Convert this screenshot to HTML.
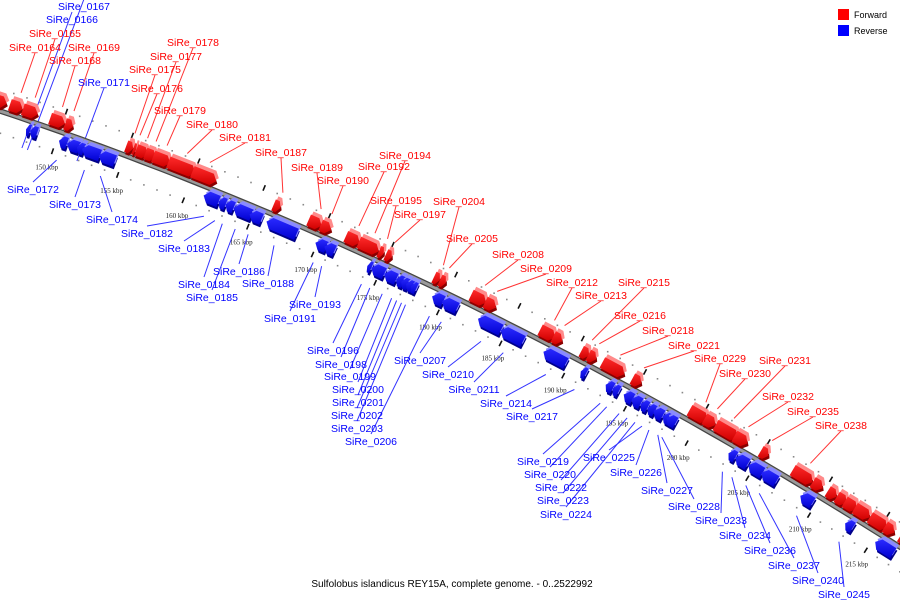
<!DOCTYPE html>
<html><head><meta charset="utf-8"><style>
html,body{margin:0;padding:0;background:#fff;}
svg{display:block;font-family:"Liberation Sans",sans-serif;}
</style></head><body>
<svg id="chart" width="900" height="600" viewBox="0 0 900 600" xmlns="http://www.w3.org/2000/svg">
<defs>
<linearGradient id="gr" x1="0" y1="0" x2="0" y2="1"><stop offset="0" stop-color="#ff2a2a"/><stop offset="1" stop-color="#d00000"/></linearGradient>
<linearGradient id="gb" x1="0" y1="0" x2="0" y2="1"><stop offset="0" stop-color="#2a2aff"/><stop offset="1" stop-color="#0000d0"/></linearGradient>
</defs>
<g id="dots"></g>
<g id="ticks"></g>
<g id="leaders"></g>
<g id="backbone"></g>
<g id="genes"></g>
<g id="labels"></g>
<g>
  <rect x="838" y="9" width="11" height="11" fill="#f00"/>
  <text x="854" y="18" font-size="9">Forward</text>
  <rect x="838" y="25" width="11" height="11" fill="#00f"/>
  <text x="854" y="34" font-size="9">Reverse</text>
</g>
<text x="452" y="587" font-size="10" text-anchor="middle">Sulfolobus islandicus REY15A, complete genome. - 0..2522992</text>
</svg>
<script>
// ---- data (kbp) ----
const tickKbp = [150,155,160,165,170,175,180,185,190,195,200,205,210,215];
const fwdNames = ['','SiRe_0164','SiRe_0165','SiRe_0168','SiRe_0169','SiRe_0175','SiRe_0176','SiRe_0177','SiRe_0178','SiRe_0179','SiRe_0180','SiRe_0181','SiRe_0187','SiRe_0189','SiRe_0190','SiRe_0192','SiRe_0194','SiRe_0195','SiRe_0197','SiRe_0204','SiRe_0205','SiRe_0208','SiRe_0209','SiRe_0212','SiRe_0213','SiRe_0215','SiRe_0216','SiRe_0218','SiRe_0221','SiRe_0229','SiRe_0230','SiRe_0231','SiRe_0232','SiRe_0235','SiRe_0238','','','','','','','',''];
const fwdStart = [144.54,145.99,146.98,149.05,150.19,154.85,155.38,155.61,156.29,156.89,158.03,159.85,166.08,168.77,169.69,171.67,172.70,174.29,174.84,178.65,179.13,181.59,182.70,187.06,188.10,190.32,190.89,192.02,194.44,199.03,200.25,201.15,202.70,204.84,207.42,209.03,210.26,211.05,211.75,212.63,213.95,215.26,216.6];
const fwdEnd   = [145.76,146.98,148.13,150.19,150.80,155.38,155.61,156.52,157.12,158.18,160.08,161.69,166.62,169.77,170.52,172.78,174.29,174.68,175.32,179.13,179.60,182.78,183.57,188.25,188.81,190.97,191.53,193.79,195.16,200.49,201.15,202.95,203.77,205.48,209.03,209.84,211.05,211.93,212.81,213.95,215.44,216.1,217.9];
const revNames = ['SiRe_0166','SiRe_0167','SiRe_0172','','','SiRe_0173','SiRe_0174','SiRe_0182','SiRe_0183','SiRe_0184','SiRe_0185','SiRe_0186','SiRe_0188','SiRe_0191','SiRe_0193','SiRe_0196','SiRe_0198','SiRe_0199','SiRe_0200','SiRe_0201','SiRe_0202','SiRe_0203','SiRe_0206','SiRe_0207','SiRe_0210','SiRe_0211','SiRe_0214','SiRe_0217','SiRe_0219','SiRe_0220','SiRe_0222','SiRe_0223','SiRe_0224','SiRe_0225','SiRe_0226','SiRe_0227','SiRe_0228','SiRe_0233','SiRe_0234','SiRe_0236','SiRe_0237','SiRe_0240','SiRe_0245',''];
const revStart = [147.67,147.98,150.19,150.80,151.56,151.95,153.24,161.23,162.38,162.92,163.54,164.77,166.08,169.85,170.56,173.97,174.29,175.32,176.27,176.67,177.06,177.46,179.13,179.92,182.78,184.60,187.98,190.97,192.98,193.55,194.44,195.08,195.81,196.37,196.85,197.58,197.9,202.95,203.52,204.59,205.65,208.79,212.63,215.26];
const revEnd   = [147.98,148.51,150.80,151.72,152.10,153.32,154.47,162.38,162.92,163.54,164.92,165.69,168.38,170.71,171.35,174.29,175.32,176.27,176.83,177.22,177.62,177.86,180.0,181.11,184.60,186.35,189.76,191.37,193.55,194.03,195.16,195.81,196.37,196.94,197.58,198.3,198.63,203.52,204.51,205.73,206.85,209.76,213.28,216.84];
// label layout (text centres)
const labelPos = {
 'SiRe_0164':[35,47],'SiRe_0165':[55,33],'SiRe_0168':[75,60],'SiRe_0169':[94,47],
 'SiRe_0178':[193,42],'SiRe_0177':[176,56],'SiRe_0175':[155,69],'SiRe_0176':[157,88],
 'SiRe_0179':[180,110],'SiRe_0180':[212,124],'SiRe_0181':[245,137],'SiRe_0187':[281,152],
 'SiRe_0189':[317,167],'SiRe_0190':[343,180],'SiRe_0192':[384,166],'SiRe_0194':[405,155],
 'SiRe_0195':[396,200],'SiRe_0197':[420,214],'SiRe_0204':[459,201],'SiRe_0205':[472,238],
 'SiRe_0208':[518,254],'SiRe_0209':[546,268],'SiRe_0212':[572,282],'SiRe_0213':[601,295],
 'SiRe_0215':[644,282],'SiRe_0216':[640,315],'SiRe_0218':[668,330],'SiRe_0221':[694,345],
 'SiRe_0229':[720,358],'SiRe_0230':[745,373],'SiRe_0231':[785,360],'SiRe_0232':[788,396],
 'SiRe_0235':[813,411],'SiRe_0238':[841,425],
 'SiRe_0167':[84,6],'SiRe_0166':[72,19],'SiRe_0171':[104,82],'SiRe_0172':[33,189],
 'SiRe_0173':[75,204],'SiRe_0174':[112,219],'SiRe_0182':[147,233],'SiRe_0183':[184,248],
 'SiRe_0184':[204,284],'SiRe_0185':[212,297],'SiRe_0186':[239,271],'SiRe_0188':[268,283],
 'SiRe_0193':[315,304],'SiRe_0191':[290,318],'SiRe_0196':[333,350],'SiRe_0198':[341,364],
 'SiRe_0199':[350,376],'SiRe_0200':[358,389],'SiRe_0201':[358,402],'SiRe_0202':[357,415],
 'SiRe_0203':[357,428],'SiRe_0206':[371,441],'SiRe_0207':[420,360],'SiRe_0210':[448,374],
 'SiRe_0211':[474,389],'SiRe_0214':[506,403],'SiRe_0217':[532,416],'SiRe_0219':[543,461],
 'SiRe_0220':[550,474],'SiRe_0222':[561,487],'SiRe_0223':[563,500],'SiRe_0224':[566,514],
 'SiRe_0225':[609,457],'SiRe_0226':[636,472],'SiRe_0227':[667,490],'SiRe_0228':[694,506],
 'SiRe_0233':[721,520],'SiRe_0234':[745,535],'SiRe_0236':[770,550],'SiRe_0237':[794,565],
 'SiRe_0240':[818,580],'SiRe_0245':[844,594]
};
const tickX = [59.5,125,191,256,321,384,447,510,573,635,697,758,820,877];
const NS='http://www.w3.org/2000/svg';
function xOf(k){
  let i=0; while(i<tickKbp.length-2 && k>tickKbp[i+1]) i++;
  return tickX[i]+(k-tickKbp[i])*(tickX[i+1]-tickX[i])/(tickKbp[i+1]-tickKbp[i]);
}
function yOf(x){return 111+0.3333*x+1.679e-4*x*x;}
function frame(x){const m=0.3333+3.358e-4*x;const l=Math.sqrt(1+m*m);return {u:[1/l,m/l],n:[m/l,-1/l]};}
function pt(k,d){const x=xOf(k);const f=frame(x);return [x+f.n[0]*d,yOf(x)+f.n[1]*d];}
function mk(tag,attrs,parent){const e=document.createElementNS(NS,tag);for(const a in attrs)e.setAttribute(a,attrs[a]);parent.appendChild(e);return e;}
const gDots=document.getElementById('dots'),gTicks=document.getElementById('ticks'),gLead=document.getElementById('leaders'),gBack=document.getElementById('backbone'),gGenes=document.getElementById('genes'),gLab=document.getElementById('labels');
// backbone
let dpath='';for(let x=-10;x<=910;x+=10){dpath+=(x===-10?'M':'L')+x+','+yOf(x).toFixed(1)+' ';}
const bb1=mk('path',{d:dpath,fill:'none',stroke:'#444',"stroke-width":5.5},gBack);


const bb2=mk('path',{d:dpath,fill:'none',stroke:'#9a9a9a',"stroke-width":3},gBack);


// dots every 1 kbp
for(let k=144;k<=218;k++){
  if(k%5===0) continue;
  for(const d of [21,-21]){
    const p=pt(k,d);
    const c=mk('rect',{x:(p[0]-0.8).toFixed(1),y:(p[1]-0.8).toFixed(1),width:1.6,height:1.6,fill:'#888'},gDots);
    
    
  }
}
// ticks
tickKbp.forEach(k=>{
  for(const d of [21,-21]){
    const p=pt(k,d);const f=frame(xOf(k));
    const t=mk('line',{x1:(p[0]-f.n[0]*3).toFixed(1),y1:(p[1]-f.n[1]*3).toFixed(1),x2:(p[0]+f.n[0]*3).toFixed(1),y2:(p[1]+f.n[1]*3).toFixed(1),stroke:'#111',"stroke-width":1.6},gTicks);
    
    
  }
  const p=pt(k,-38);
  const tl=mk('text',{x:p[0].toFixed(1),y:(p[1]+2).toFixed(1),"font-size":7,"font-family":"Liberation Serif, serif","text-anchor":"middle",fill:'#222'},gTicks);
  tl.textContent=k+' kbp';
  
  
});
function drawGene(name,s,e,fwd){
  const sign=fwd?1:-1;
  const x1=xOf(s),x2=xOf(e);const xm=(x1+x2)/2;const f=frame(xm);
  const P=[x1,yOf(x1)];const L=Math.hypot(x2-x1,yOf(x2)-yOf(x1));
  const d0=3*sign,d1=15*sign,dm=(d0+d1)/2;const t=Math.min(5,L*0.45);
  const loc=fwd?[[0,d0],[L-t,d0],[L,dm],[L-t,d1],[0,d1]]:[[t,d0],[L,d0],[L,d1],[t,d1],[0,dm]];
  const w=(dx,dy)=>loc.map(q=>[(P[0]+f.u[0]*q[0]+f.n[0]*q[1]+dx).toFixed(1),(P[1]+f.u[1]*q[0]+f.n[1]*q[1]+dy).toFixed(1)].join(',')).join(' ');
  const g=mk('g',{},gGenes);
  
  
  mk('polygon',{points:w(1,2.5),fill:fwd?'#8a0000':'#00008a'},g);
  mk('polygon',{points:w(2.5,-3),fill:fwd?'#ff8a8a':'#8a8aff'},g);
  mk('polygon',{points:w(0,0),fill:fwd?'url(#gr)':'url(#gb)'},g);
  if(name&&labelPos[name]){
    const lp=labelPos[name];
    const km=(s+e)/2;const q=pt(km,fwd?24:-28);
    const ly=fwd?lp[1]+6:lp[1]-7;
    const ln=mk('line',{x1:lp[0],y1:ly,x2:q[0].toFixed(1),y2:q[1].toFixed(1),stroke:fwd?'#f33':'#33f',"stroke-width":1},gLead);
    
    
    const tx=mk('text',{x:lp[0],y:lp[1]+4,"font-size":10.5,"text-anchor":"middle",fill:fwd?'#f00':'#00f'},gLab);
    tx.textContent=name;
    
    
  }
}
fwdNames.forEach((n,i)=>drawGene(n,fwdStart[i],fwdEnd[i],true));
revNames.forEach((n,i)=>drawGene(n,revStart[i],revEnd[i],false));
// SiRe_0171 label
(function(){const lp=labelPos['SiRe_0171'];const q=pt(151.9,-22);
const ln=mk('line',{x1:lp[0],y1:lp[1]+6,x2:q[0].toFixed(1),y2:q[1].toFixed(1),stroke:'#33f',"stroke-width":1},gLead);


const tx=mk('text',{x:lp[0],y:lp[1]+4,"font-size":10.5,"text-anchor":"middle",fill:'#00f'},gLab);tx.textContent='SiRe_0171';

})();
</script>
</body></html>
